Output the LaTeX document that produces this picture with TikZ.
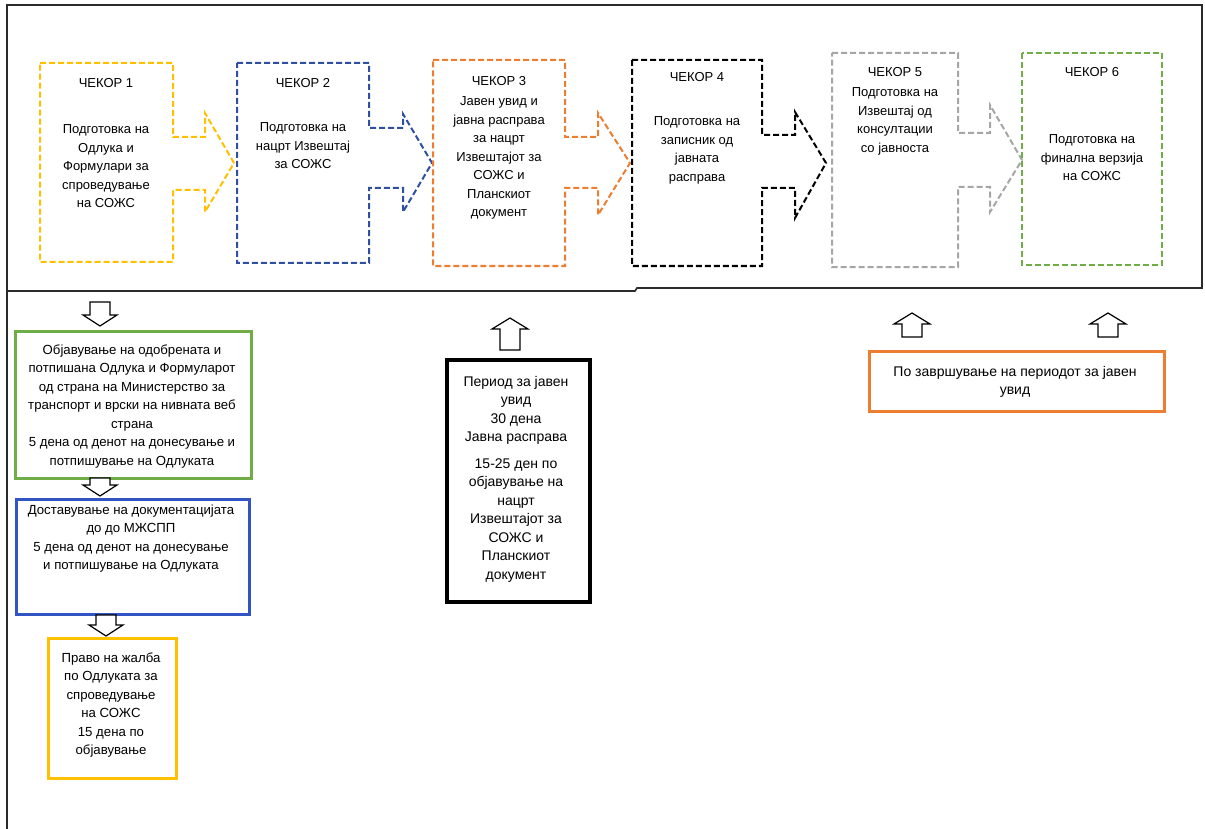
\documentclass[tikz,border=0pt]{standalone}
\usepackage{fontspec}
\setmainfont{Liberation Sans}
\definecolor{cyel}{HTML}{FFC000}
\definecolor{cblued}{HTML}{2F4FA0}
\definecolor{cblue}{HTML}{3355C4}
\definecolor{corange}{HTML}{ED7D31}
\definecolor{cgray}{HTML}{A6A6A6}
\definecolor{cgreen}{HTML}{70AD47}
\definecolor{cframe}{HTML}{2B2B2B}
\newcommand\blkdown[3]{%
  \draw[blk] (#1-10,#2) -- (#1+10,#2) -- (#1+10,#3-11) -- (#1+17,#3-11) -- (#1,#3) -- (#1-17,#3-11) -- (#1-10,#3-11) -- cycle;}
\newcommand\blkup[3]{%
  \draw[blk] (#1-10,#2) -- (#1-10,#3+11) -- (#1-18,#3+11) -- (#1,#3) -- (#1+18,#3+11) -- (#1+10,#3+11) -- (#1+10,#2) -- cycle;}
\begin{document}
\begin{tikzpicture}[x=1pt,y=-1pt,
  stepline/.style={line width=2pt, dash pattern=on 6pt off 3pt, line join=miter},
  steptitle/.style={font=\fontsize{13}{18.5}\selectfont, anchor=base, inner sep=0pt},
  steptxt/.style={font=\fontsize{13}{18.5}\selectfont, align=center, anchor=north, inner sep=0pt},
  boxtxt/.style={font=\fontsize{13.2}{18.5}\selectfont, align=center, anchor=north, inner sep=0pt},
  bigtxt/.style={font=\fontsize{14}{18.5}\selectfont, align=center, anchor=north, inner sep=0pt},
  solidbox/.style={draw, line width=2.5pt, inner sep=0pt, anchor=north west},
  blk/.style={draw=black, fill=white, line width=1.2pt, line join=miter},
  frame/.style={draw=cframe, line width=1.6pt}]
\useasboundingbox (0,0) rectangle (1205,829);
\fill[white] (0,0) rectangle (1205,829);

% frame
\draw[frame] (7,829) -- (7,5) -- (1202,5) -- (1202,288) -- (637,288) -- (635,291) -- (7,291);

% step callouts
\draw[stepline, draw=cyel] (40,63) -- (173,63) -- (173,137) -- (205,137) -- (205,113) -- (234,163) -- (205,212) -- (205,190) -- (173,190) -- (173,262) -- (40,262) -- cycle;
\draw[stepline, draw=cblued] (237,63) -- (369,63) -- (369,128) -- (403,128) -- (403,114) -- (432,163) -- (403,212) -- (403,188) -- (369,188) -- (369,263) -- (237,263) -- cycle;
\draw[stepline, draw=corange] (433,60) -- (565,60) -- (565,137) -- (598,137) -- (598,113) -- (630,163) -- (598,215) -- (598,188) -- (565,188) -- (565,266) -- (433,266) -- cycle;
\draw[stepline, draw=black] (632,60) -- (762,60) -- (762,135) -- (795,135) -- (795,112) -- (826,163) -- (795,218) -- (795,188) -- (762,188) -- (762,266) -- (632,266) -- cycle;
\draw[stepline, draw=cgray] (832,53) -- (958,53) -- (958,133) -- (990,133) -- (990,105) -- (1022,160) -- (990,212) -- (990,187) -- (958,187) -- (958,267) -- (832,267) -- cycle;
\draw[stepline, draw=cgreen] (1022,53) rectangle (1162,265);

% step texts
\node[steptitle] (t1) at (106,88) {ЧЕКОР 1};
\node[steptxt] (b1) at (106,124.5) {Подготовка на\\Одлука и\\Формулари за\\спроведување\\на СОЖС};
\node[steptitle] (t2) at (303,88) {ЧЕКОР 2};
\node[steptxt] (b2) at (303,122.5) {Подготовка на\\нацрт Извештај\\за СОЖС};
\node[steptitle] (t3) at (499,86) {ЧЕКОР 3};
\node[steptxt] (b3) at (499,96.5) {Јавен увид и\\јавна расправа\\за нацрт\\Извештајот за\\СОЖС и\\Планскиот\\документ};
\node[steptitle] (t4) at (697,82) {ЧЕКОР 4};
\node[steptxt] (b4) at (697,116.5) {Подготовка на\\записник од\\јавната\\расправа};
\node[steptitle] (t5) at (895,77) {ЧЕКОР 5};
\node[steptxt] (b5) at (895,87.5) {Подготовка на\\Извештај од\\консултации\\со јавноста};
\node[steptitle] (t6) at (1092,77) {ЧЕКОР 6};
\node[steptxt] (b6) at (1092,134.5) {Подготовка на\\финална верзија\\на СОЖС};

% lower boxes
\node[solidbox, draw=cgreen, minimum width=236pt, minimum height=147pt] (g) at (14,330) {};
\node[boxtxt] (gt) at (132,344.5) {Објавување на одобрената и\\потпишана Одлука и Формуларот\\од страна на Министерство за\\транспорт и врски на нивната веб\\страна\\5 дена од денот на  донесување и\\потпишување на Одлуката};
\node[solidbox, draw=cblue, minimum width=233pt, minimum height=115pt] (bl) at (15,498) {};
\node[boxtxt] (blt) at (131,504.5) {Доставување на документацијата\\до до МЖСПП\\5 дена од денот на  донесување\\и потпишување на Одлуката};
\node[solidbox, draw=cyel, minimum width=128pt, minimum height=140pt] (y) at (47,637) {};
\node[boxtxt] (yt) at (111,652.5) {Право на жалба\\по Одлуката за\\спроведување\\на СОЖС\\15 дена по\\објавување};
\node[solidbox, draw=black, line width=3.5pt, minimum width=143pt, minimum height=242pt] (k) at (445,358) {};
\node[bigtxt] (kt) at (516,376) {Период за јавен\\увид\\30 дена\\Јавна расправа\\[8pt]15-25 ден по\\објавување на\\нацрт\\Извештајот за\\СОЖС и\\Планскиот\\документ};
\node[solidbox, draw=corange, minimum width=295pt, minimum height=60pt] (o) at (868,350) {};
\node[bigtxt] (ot) at (1015,366) {По завршување на периодот за јавен\\увид};

% block arrows
\blkdown{100}{302}{326}
\blkdown{100}{478}{496}
\blkdown{106}{615}{636}
\blkup{510}{350}{318}
\blkup{912}{337}{313}
\blkup{1108}{337}{313}
\end{tikzpicture}
\end{document}
